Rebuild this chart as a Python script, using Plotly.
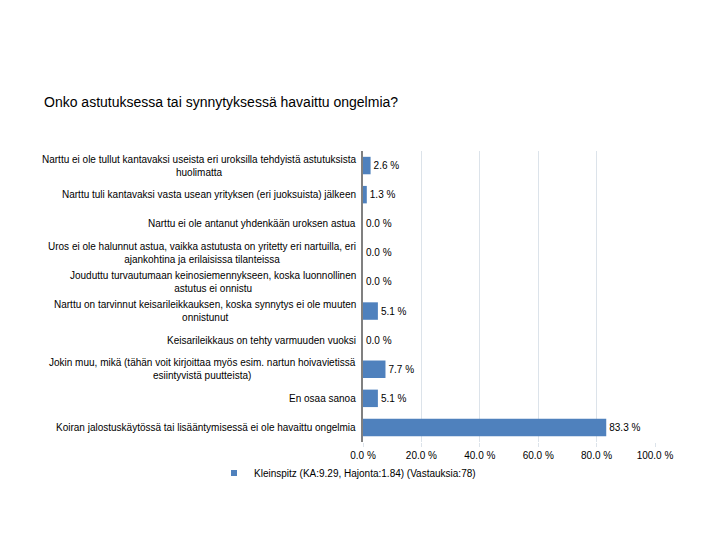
import plotly.graph_objects as go

categories = [
    "Narttu ei ole tullut kantavaksi useista eri uroksilla tehdyistä astutuksista<br>huolimatta",
    "Narttu tuli kantavaksi vasta usean yrityksen (eri juoksuista) jälkeen",
    "Narttu ei ole antanut yhdenkään uroksen astua",
    "Uros ei ole halunnut astua, vaikka astutusta on yritetty eri nartuilla, eri<br>ajankohtina ja erilaisissa tilanteissa",
    "Jouduttu turvautumaan keinosiemennykseen, koska luonnollinen<br>astutus ei onnistu",
    "Narttu on tarvinnut keisarileikkauksen, koska synnytys ei ole muuten<br>onnistunut",
    "Keisarileikkaus on tehty varmuuden vuoksi",
    "Jokin muu, mikä (tähän voit kirjoittaa myös esim. nartun hoivavietissä<br>esiintyvistä puutteista)",
    "En osaa sanoa",
    "Koiran jalostuskäytössä tai lisääntymisessä ei ole havaittu ongelmia",
]
values = [2.6, 1.3, 0.0, 0.0, 0.0, 5.1, 0.0, 7.7, 5.1, 83.3]
series_name = "Kleinspitz (KA:9.29, Hajonta:1.84) (Vastauksia:78)"
title_text = "Onko astutuksessa tai synnytyksessä havaittu ongelmia?"
x_ticks = [0, 20, 40, 60, 80, 100]

FONT = "Liberation Sans, Arial, sans-serif"
BAR_COLOR = "#4F81BD"
OFF = 8  # page body margin offset
W, H = 720 - OFF, 540 - OFF

fig = go.Figure()
fig.add_trace(go.Bar(
    x=values,
    y=categories,
    orientation="h",
    name=series_name,
    marker=dict(color=BAR_COLOR, line=dict(width=0)),
    width=0.6,
    text=[f"{v:.1f} %" for v in values],
    textposition="outside",
    textfont=dict(family=FONT, size=10, color="#000000"),
    cliponaxis=False,
    showlegend=False,
    legendgroup="s",
))
# legend entry with a small square key, as in the original
fig.add_trace(go.Scatter(
    x=[None], y=[None], mode="markers",
    name=series_name, legendgroup="s",
    marker=dict(symbol="square", size=6, color=BAR_COLOR),
    showlegend=True, hoverinfo="skip",
))

annotations = []
for c in categories:
    annotations.append(dict(
        x=0, y=c, xref="x", yref="y",
        text=c, showarrow=False,
        xanchor="right", yanchor="middle", align="center",
        xshift=-5,
        font=dict(family=FONT, size=10, color="#000000"),
    ))

fig.update_layout(
    width=W, height=H,
    paper_bgcolor="white", plot_bgcolor="white",
    margin=dict(l=363 - OFF, r=65, t=151 - OFF, b=98, autoexpand=False),
    title=dict(
        text=title_text, xref="container", yref="container",
        x=(44 - OFF) / W, xanchor="left", y=1 - (102 - OFF) / H, yanchor="middle",
        font=dict(family=FONT, size=14, color="#000000"),
    ),
    xaxis=dict(
        range=[0, 100], tickvals=x_ticks,
        ticktext=[f"{t:.1f} %" for t in x_ticks],
        showgrid=True, gridcolor="#DCE3EA", gridwidth=1,
        zeroline=False, showline=False,
        ticks="outside", ticklen=4, tickcolor="#DCE3EA",
        tickfont=dict(family=FONT, size=10, color="#000000"),
        fixedrange=True, automargin=False,
    ),
    yaxis=dict(
        autorange="reversed", showticklabels=False,
        showline=True, linecolor="#808080", linewidth=2,
        showgrid=False, ticks="", automargin=False,
    ),
    bargap=0.4,
    legend=dict(
        orientation="h", xref="container", yref="container",
        x=(214 - OFF) / W, xanchor="left", y=1 - (473 - OFF) / H, yanchor="middle",
        font=dict(family=FONT, size=10, color="#000000"),
    ),
    annotations=annotations,
    showlegend=True,
)

fig.write_html("out.html")
